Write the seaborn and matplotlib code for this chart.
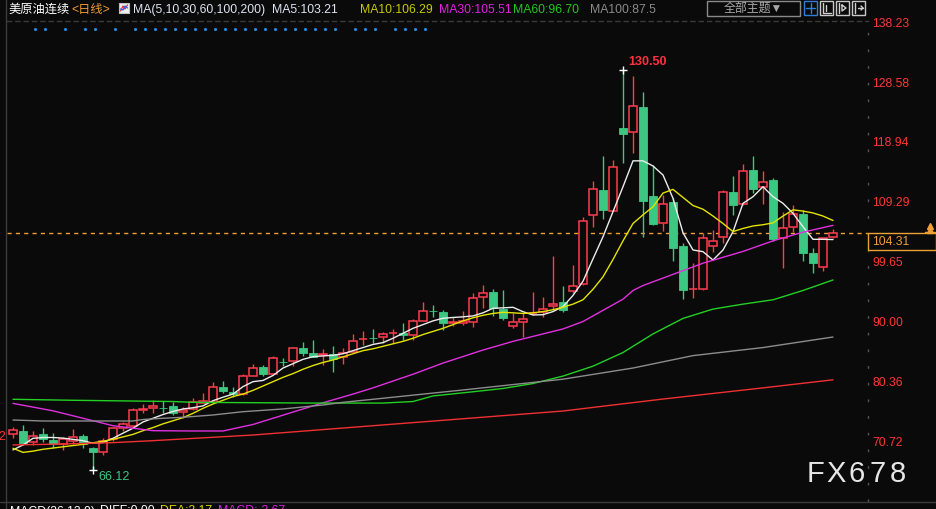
import matplotlib
matplotlib.use("Agg")
import numpy as np
import pandas as pd
import matplotlib.pyplot as plt
import seaborn as sns
from matplotlib.patches import Rectangle

# ---------------- data (daily, US crude continuous) ----------------
opens = [71.82, 72.35, 70.52, 71.82, 70.90, 70.20, 70.74, 71.54, 69.56, 69.00,
         71.00, 72.88, 73.20, 75.80, 76.00, 76.05, 76.38, 75.46, 75.84, 76.90,
         77.07, 79.39, 78.63, 78.26, 81.26, 82.66, 81.58, 83.45, 83.68, 85.78,
         84.87, 84.55, 84.76, 84.33, 85.13, 87.10, 87.35, 87.45, 88.10, 88.20,
         87.82, 90.13, 91.75, 91.48, 89.80, 89.80, 89.87, 93.90, 94.71, 91.97,
         89.27, 89.97, 91.30, 91.58, 92.45, 93.20, 94.97, 96.00, 107.12, 111.20,
         107.86, 121.25, 120.60, 124.58, 110.28, 105.88, 109.31, 102.17, 95.20, 95.24,
         102.22, 103.57, 110.83, 108.89, 114.42, 111.73, 112.81, 103.42, 105.19, 107.33,
         100.99, 98.84, 103.57]
highs = [72.95, 73.30, 72.35, 72.90, 71.97, 71.33, 72.62, 71.82, 69.83, 71.17,
         73.04, 73.85, 76.00, 76.70, 77.35, 77.23, 77.07, 76.27, 77.62, 78.42,
         80.20, 80.40, 79.40, 81.54, 83.15, 82.99, 84.44, 84.07, 85.94, 86.65,
         87.02, 85.57, 86.05, 85.68, 87.94, 88.47, 88.74, 88.36, 88.79, 89.80,
         90.35, 93.19, 92.66, 91.85, 90.68, 91.69, 94.55, 95.88, 95.24, 95.08,
         91.42, 91.32, 94.80, 94.00, 100.55, 95.72, 99.10, 106.90, 112.65, 116.68,
         116.04, 130.50, 129.60, 127.05, 115.18, 110.40, 109.86, 102.70, 99.38, 104.22,
         104.75, 111.20, 113.46, 115.39, 116.68, 114.26, 113.09, 107.70, 108.73, 108.00,
         101.80, 103.50, 104.86]
lows = [71.20, 70.10, 70.10, 70.60, 69.56, 69.30, 70.20, 69.65, 66.12, 68.47,
        70.74, 72.35, 72.78, 75.20, 75.20, 75.20, 74.93, 74.40, 75.73, 76.90,
        76.90, 78.50, 77.88, 78.15, 81.20, 81.26, 81.50, 82.83, 82.87, 84.49,
        84.20, 82.99, 81.90, 83.10, 85.10, 86.21, 86.49, 86.49, 86.60, 87.00,
        87.00, 90.10, 90.77, 88.63, 89.27, 89.44, 89.16, 92.13, 90.94, 90.24,
        88.90, 87.55, 91.00, 90.77, 91.85, 91.50, 94.55, 95.88, 105.28, 106.52,
        107.80, 115.60, 117.21, 103.67, 105.60, 104.64, 99.75, 93.58, 93.80, 95.08,
        101.16, 102.60, 107.17, 108.80, 110.76, 108.89, 103.03, 98.58, 104.48, 99.80,
        97.87, 98.20, 103.50]
closes = [72.51, 70.36, 71.60, 71.00, 70.20, 71.00, 71.43, 70.20, 69.00, 70.80,
          72.78, 73.43, 75.73, 75.90, 76.38, 76.00, 75.30, 75.73, 77.00, 77.23,
          79.39, 78.84, 78.26, 81.17, 82.46, 81.58, 84.07, 83.40, 85.68, 84.97,
          84.33, 84.76, 83.95, 84.87, 86.90, 87.18, 87.29, 87.94, 88.20, 87.82,
          90.08, 91.69, 91.69, 89.71, 89.87, 90.03, 93.74, 94.55, 92.13, 90.52,
          89.87, 90.35, 91.40, 91.97, 92.82, 91.80, 95.72, 106.20, 111.31, 107.98,
          114.83, 120.28, 124.74, 109.47, 105.72, 108.94, 101.90, 95.08, 95.30, 103.42,
          103.03, 110.83, 108.73, 114.20, 111.31, 112.44, 103.35, 105.02, 107.28, 101.09,
          99.38, 103.42, 104.31]

# moving averages (values read at each candle for the fast ones)
ma5 = [69.3, 70.1, 71.17, 71.3, 71.3, 71.2, 71.0, 70.79, 70.36, 70.5,
       71.17, 72.0, 72.8, 73.8, 74.4, 75.0, 75.5, 75.9, 76.1, 76.4,
       77.23, 77.8, 78.3, 79.5, 80.3, 80.5, 81.3, 82.5, 83.2, 83.9,
       84.33, 84.45, 84.55, 84.8, 85.3, 85.8, 86.3, 86.6, 87.3, 88.1,
       88.9, 89.5, 90.1, 90.52, 90.65, 90.75, 90.9, 91.4, 92.13, 92.2,
       92.29, 91.58, 91.05, 91.1, 91.6, 92.4, 94.2, 96.5, 100.1, 103.67,
       107.7, 111.73, 115.9, 115.9, 115.07, 113.62, 109.86, 104.3, 101.53, 101.26,
       99.91, 101.53, 104.48, 109.05, 110.12, 111.73, 110.12, 109.05, 107.44, 105.28,
       103.25, 103.25, 103.21]
ma10 = [69.56, 68.9, 69.1, 69.4, 69.6, 69.8, 70.0, 70.2, 70.45, 70.7,
        71.0, 71.4, 71.8, 72.4, 72.9, 73.5, 74.0, 74.5, 75.2, 76.0,
        76.7, 77.3, 77.9, 78.3, 78.9, 79.6, 80.3, 81.0, 81.6, 82.3,
        82.9, 83.4, 83.8, 84.3, 84.8, 85.3, 85.6, 86.0, 86.4, 86.8,
        87.3, 87.9, 88.4, 88.9, 89.5, 90.1, 90.6, 91.0, 91.3, 91.48,
        91.4, 91.3, 91.4, 91.6, 91.9, 92.3, 92.8, 93.5, 95.2, 97.2,
        100.0, 103.0, 105.8, 107.2, 108.5, 110.7, 111.3, 110.0, 108.7, 108.1,
        107.0, 105.8, 104.5, 105.0, 105.4, 105.6, 105.9, 107.0, 108.0, 107.8,
        107.5, 107.0, 106.29]
ma30_idx = [0, 4, 7, 10, 12, 14, 18, 21, 24, 27, 31, 34, 36, 40, 43, 47, 50, 53, 55,
            57, 59, 61, 62, 63, 65, 67, 69, 73, 76, 79, 82]
ma30_val = [76.8, 75.6, 74.4, 73.2, 72.8, 72.4, 72.35, 72.35, 73.4, 74.9, 76.9, 78.3, 79.3,
            81.5, 83.3, 85.4, 86.8, 88.0, 88.8, 90.0, 91.8, 93.6, 95.0, 95.8, 97.0, 98.2,
            99.4, 101.3, 103.0, 104.4, 105.5]
ma60_idx = [0, 6, 16, 18, 30, 37, 40, 42, 45, 49, 52, 55, 58, 61, 64, 67, 70, 73, 76, 79, 82]
ma60_val = [77.46, 77.3, 77.1, 76.97, 76.85, 76.85, 77.1, 78.0, 78.5, 79.2, 80.0, 81.2,
            82.8, 85.0, 88.0, 90.5, 92.0, 92.8, 93.5, 95.0, 96.7]
ma100_idx = [0, 3, 12, 13, 15, 17, 20, 23, 27, 31, 33, 36, 45, 55, 62, 68, 75, 82]
ma100_val = [74.12, 73.96, 73.96, 74.2, 74.4, 74.56, 74.93, 75.46, 75.9, 76.54, 76.97,
             77.46, 78.96, 80.7, 82.5, 84.5, 85.8, 87.5]
ma200_idx = [0, 5, 10, 14, 17, 24, 36, 55, 65, 75, 82]
ma200_val = [70.1, 70.25, 70.47, 70.79, 71.06, 71.7, 73.2, 75.57, 77.5, 79.3, 80.6]

# candles that carry an event marker on the top row
event_idx = [2, 3, 5, 7, 8, 10, 12, 13, 14, 15, 16, 17, 18, 19, 20, 21, 22, 23, 24,
             25, 26, 27, 28, 29, 30, 31, 32, 34, 35, 36, 38, 39, 40, 41]

y_ticks = [138.23, 128.58, 118.94, 109.29, 99.65, 90.00, 80.36, 70.72]

ma_legend = [("MA5:103.21", "#dde3f0", 272), ("MA10:106.29", "#c8c800", 360),
             ("MA30:105.51", "#e020e0", 439), ("MA60:96.70", "#22c422", 513),
             ("MA100:87.5", "#8a8a8a", 590)]

# ---------------- style ----------------
W, H = 937, 509
BG = "#0a0a0a"
UP = "#ff3c50"
DOWN = "#3cc882"
LABEL_RED = "#ff3535"
ORANGE = "#eea035"

sns.set_theme(style="dark", rc={"axes.facecolor": BG, "figure.facecolor": BG})
plt.rcParams["font.family"] = ["Liberation Sans", "Noto Sans CJK SC", "DejaVu Sans"]

# pixel calibration of the price scale
PX_PER_UNIT = 6.203
Y_AT_90 = 321.5


def price_at(ypix):
    return 90 + (Y_AT_90 - ypix) / PX_PER_UNIT


fig = plt.figure(figsize=(W / 100, H / 100), dpi=100)
ax = fig.add_axes([7 / W, 1 - 501 / H, (868 - 7) / W, (501 - 21) / H])
ax.set_xlim(-0.6, 85.5)
ax.set_ylim(price_at(501), price_at(21))

o = np.array(opens)
h = np.array(highs)
l = np.array(lows)
c = np.array(closes)
x = np.arange(len(o))
up = c >= o
lo_b = np.minimum(o, c)
hi_b = np.maximum(o, c)

# wicks: green through the body, red stops at the hollow body
ax.vlines(x[~up], l[~up], h[~up], color=DOWN, lw=1, zorder=2)
ax.vlines(x[up], hi_b[up], h[up], color=UP, lw=1, zorder=2)
ax.vlines(x[up], l[up], lo_b[up], color=UP, lw=1, zorder=2)
ax.bar(x[~up], np.maximum(hi_b - lo_b, 0.05)[~up], bottom=lo_b[~up], width=0.8,
       color=DOWN, edgecolor=DOWN, lw=0.6, zorder=2)
ax.bar(x[up], np.maximum(hi_b - lo_b, 0.08)[up], bottom=lo_b[up], width=0.76,
       facecolor=BG, edgecolor=UP, lw=1.1, zorder=2)

# moving averages
frames = [pd.DataFrame({"idx": x, "val": ma5, "ma": "MA5"}),
          pd.DataFrame({"idx": x, "val": ma10, "ma": "MA10"}),
          pd.DataFrame({"idx": ma30_idx, "val": ma30_val, "ma": "MA30"}),
          pd.DataFrame({"idx": ma60_idx, "val": ma60_val, "ma": "MA60"}),
          pd.DataFrame({"idx": ma100_idx, "val": ma100_val, "ma": "MA100"}),
          pd.DataFrame({"idx": ma200_idx, "val": ma200_val, "ma": "MA200"})]
ma_df = pd.concat(frames, ignore_index=True)
palette = {"MA5": "#ececec", "MA10": "#e4e400", "MA30": "#e030e0",
           "MA60": "#22d022", "MA100": "#8c8c8c", "MA200": "#f03030"}
sns.lineplot(data=ma_df, x="idx", y="val", hue="ma", palette=palette, estimator=None,
             sort=False, lw=1.0, legend=False, ax=ax, zorder=3)

# last price line + box
last = closes[-1]
ax.axhline(last, color=ORANGE, lw=1, ls=(0, (3, 3)), zorder=1)
ax.add_patch(Rectangle((1.0, last - 17 / PX_PER_UNIT), 68 / 861, 17 / PX_PER_UNIT,
                       transform=ax.get_yaxis_transform(), clip_on=False,
                       facecolor=BG, edgecolor=ORANGE, lw=1, zorder=4))
ax.annotate(f"{last:.2f}", xy=(1.0, last), xycoords=ax.get_yaxis_transform(),
            xytext=(3, -2), textcoords="offset points", ha="left", va="top",
            color=ORANGE, fontsize=8.7, annotation_clip=False, zorder=5)

# extremes
imax = int(np.argmax(h))
imin = int(np.argmin(l))
ax.plot(imax, h[imax], marker="+", color="white", ms=6, mew=1, zorder=4)
ax.plot(imin, l[imin], marker="+", color="white", ms=6, mew=1, zorder=4)
ax.annotate(f"{h[imax]:.2f}", xy=(imax, h[imax]), xytext=(3.6, 5.8),
            textcoords="offset points", ha="left", va="center",
            color="#ff3040", fontsize=9, fontweight="bold")
ax.annotate(f"{l[imin]:.2f}", xy=(imin, l[imin]), xytext=(3.6, -5.4),
            textcoords="offset points", ha="left", va="center",
            color=DOWN, fontsize=9)

# event dots on top row
ax.scatter(np.array(event_idx) + 0.2, np.full(len(event_idx), (501 - 29) / 480),
           transform=ax.get_xaxis_transform(), s=5, color="#1e8ee8", lw=0, zorder=4,
           clip_on=False)

# axes cosmetics
ax.grid(False)
ax.set_xticks([])
ax.yaxis.tick_right()
ax.set_yticks(y_ticks)
ax.set_yticklabels([f"{v:.2f}" for v in y_ticks])
ax.tick_params(axis="y", length=0, pad=3, labelcolor=LABEL_RED, labelsize=8.7)
ax.set_xlabel("")
ax.set_ylabel("")
for side in ["left", "bottom"]:
    ax.spines[side].set_visible(False)
ax.spines["top"].set_color("#3a3a3a")
ax.spines["top"].set_linestyle((0, (3, 3)))
ax.spines["top"].set_linewidth(1)
ax.spines["right"].set_color("#555555")
ax.spines["right"].set_linestyle((0, (1, 11)))
ax.spines["right"].set_linewidth(1)

# ---------------- overlay in pixel units for header / frame ----------------
ov = fig.add_axes([0, 0, 1, 1], zorder=5)
ov.set_xlim(0, W)
ov.set_ylim(H, 0)
ov.axis("off")
ov.patch.set_alpha(0)

ov.axvline(6.5, color="#3c3c3c", lw=1)
ov.axhline(501.5, color="#3c3c3c", lw=1)
ov.text(5.5, 437, "2", color=LABEL_RED, fontsize=8.7, ha="right", va="center")

ov.text(8, 9.5, "美原油连续", color="white", fontsize=8.8, va="center")
ov.text(71, 9.5, "<日线>", color="#ec9a30", fontsize=8.8, va="center")
ov.add_patch(Rectangle((119, 3), 10, 10, facecolor="#f0f0f0", edgecolor="#c0c0c0", lw=0.8))
ov.plot([120.5, 123, 125, 127.5], [11, 6, 9, 5], color="#e03030", lw=0.9)
ov.plot([120.5, 123, 125, 127.5], [9, 10, 6, 8], color="#3060e0", lw=0.9)
ov.text(133, 9.5, "MA(5,10,30,60,100,200)", color="#dde3f0", fontsize=8.8, va="center")
for label, col, xpos in ma_legend:
    ov.text(xpos, 9.5, label, color=col, fontsize=8.8, va="center")

# toolbar buttons
ov.add_patch(Rectangle((707, 1), 93, 14.5, facecolor=BG, edgecolor="#8a8a8a", lw=1))
ov.text(753, 8.5, "全部主题▼", color="#a8a8a8", fontsize=8.6, ha="center", va="center")
ov.add_patch(Rectangle((804.5, 1), 13, 14, facecolor=BG, edgecolor="#2a80d8", lw=1))
ov.plot([806.5, 815.5], [8, 8], color="#2a80d8", lw=1)
ov.plot([811, 811], [3, 13], color="#2a80d8", lw=1)
for bx in [820.5, 836.5, 852.5]:
    ov.add_patch(Rectangle((bx, 1), 13, 14, facecolor=BG, edgecolor="#c8c8c8", lw=1))
ov.plot([823, 823, 831], [3, 13, 13], color="#d0d0d0", lw=1)
ov.plot([826, 826], [5, 11], color="#d0d0d0", lw=1)
ov.plot([839, 839], [3, 13], color="#d0d0d0", lw=1)
ov.plot([842, 846, 842, 842], [5, 8, 11, 5], color="#d0d0d0", lw=1)
ov.plot([855, 855], [3, 13], color="#d0d0d0", lw=1)
ov.plot([858, 863], [8, 8], color="#d0d0d0", lw=1)
ov.plot([861, 863, 861], [6, 8, 10], color="#d0d0d0", lw=1)

# small up marker beside the price box
ov.plot([930, 930], [226, 230], ls="none", marker="^", ms=4, color=ORANGE)
ov.plot([925, 935], [232, 232], color=ORANGE, lw=1)

# watermark
for i, ch in enumerate("FX678"):
    ov.text(816 + 20.5 * i, 474, ch, color="#e6e6e6", fontsize=21, ha="center", va="center")

# indicator panel header (clipped by the bottom edge)
ov.text(10, 505.5, "MACD(26,12,9)", color="white", fontsize=8.8, va="top")
ov.text(100, 505.5, "DIFF:0.00", color="white", fontsize=8.8, va="top")
ov.text(160, 505.5, "DEA:2.17", color="#d8d800", fontsize=8.8, va="top")
ov.text(218, 505.5, "MACD:-3.67", color="#e020e0", fontsize=8.8, va="top")

fig.savefig("out.png", dpi=100, facecolor=BG)
